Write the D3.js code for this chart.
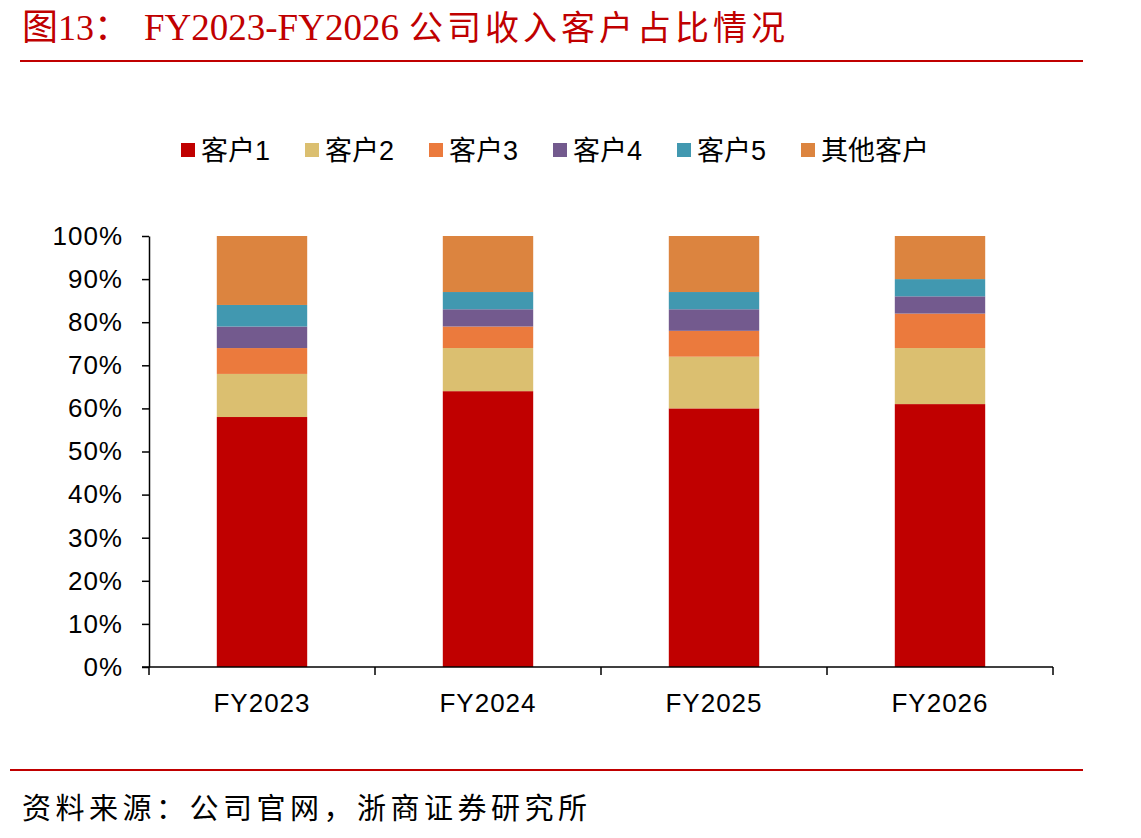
<!DOCTYPE html>
<html>
<head>
<meta charset="utf-8">
<script src="https://cdn.jsdelivr.net/npm/d3@7"></script>
<style>
  body { margin: 0; background: #fff; }
  svg { display: block; }
</style>
</head>
<body>
<div id="chart"></div>
<script>
// Data (percent of revenue)
const years = ["FY2023", "FY2024", "FY2025", "FY2026"];
const seriesNames = ["客户1", "客户2", "客户3", "客户4", "客户5", "其他客户"];
const client1 = [58, 64, 60, 61];
const client2 = [10, 10, 12, 13];
const client3 = [6, 5, 6, 8];
const client4 = [5, 4, 5, 4];
const client5 = [5, 4, 4, 4];
const others = [16, 13, 13, 10];
const yTicks = [0, 10, 20, 30, 40, 50, 60, 70, 80, 90, 100];
const colors = ["#C00000", "#DBBF70", "#EB7A3D", "#735A8E", "#4198B0", "#DC843F"];

const W = 1141, H = 838;
const margin = { top: 236, right: 88, bottom: 171, left: 149 };
const width = W - margin.left - margin.right;
const height = H - margin.top - margin.bottom;

const svg = d3.select("#chart").append("svg")
    .attr("width", W)
    .attr("height", H);

const cjk = "'Noto Sans CJK SC', sans-serif";
const serif = "'Liberation Serif', 'Noto Sans CJK SC', serif";
const sans = "'Liberation Sans', Arial, sans-serif";

// Title
svg.append("text")
    .attr("x", 22).attr("y", 40)
    .style("font-family", serif)
    .style("font-size", "36px")
    .style("fill", "#C00000")
    .text("图13：");
svg.append("text")
    .attr("x", 144).attr("y", 40)
    .style("font-family", serif)
    .style("font-size", "37px")
    .style("fill", "#C00000")
    .text("FY2023-FY2026");
svg.append("text")
    .attr("x", 409).attr("y", 40)
    .style("font-family", cjk)
    .style("font-size", "34px")
    .style("letter-spacing", "4px")
    .style("fill", "#C00000")
    .text("公司收入客户占比情况");

svg.append("line")
    .attr("x1", 20).attr("x2", 1083)
    .attr("y1", 61).attr("y2", 61)
    .style("stroke", "#C00000")
    .style("stroke-width", 2);

// Footer
svg.append("line")
    .attr("x1", 10).attr("x2", 1083)
    .attr("y1", 770).attr("y2", 770)
    .style("stroke", "#C00000")
    .style("stroke-width", 2);
svg.append("text")
    .attr("x", 22).attr("y", 819)
    .style("font-family", cjk)
    .style("font-size", "29px")
    .style("letter-spacing", "4.5px")
    .style("fill", "#000")
    .text("资料来源：公司官网，浙商证券研究所");

// Stack data
const table = years.map((y, i) => ({
    year: y,
    "客户1": client1[i],
    "客户2": client2[i],
    "客户3": client3[i],
    "客户4": client4[i],
    "客户5": client5[i],
    "其他客户": others[i]
}));
const stacked = d3.stack().keys(seriesNames)(table);

const g = svg.append("g")
    .attr("transform", `translate(${margin.left}, ${margin.top})`);

const xScale = d3.scaleBand()
    .domain(years)
    .range([0, width])
    .paddingInner(0.6)
    .paddingOuter(0.3);

const yScale = d3.scaleLinear()
    .domain([0, 100])
    .range([height, 0]);

const color = d3.scaleOrdinal().domain(seriesNames).range(colors);

g.selectAll(".series")
    .data(stacked)
    .enter()
    .append("g")
    .attr("class", "series")
    .attr("fill", d => color(d.key))
    .selectAll("rect")
    .data(d => d)
    .enter()
    .append("rect")
    .attr("x", d => xScale(d.data.year))
    .attr("y", d => yScale(d[1]))
    .attr("width", xScale.bandwidth())
    .attr("height", d => yScale(d[0]) - yScale(d[1]));

// Y axis
const yAxis = g.append("g")
    .call(d3.axisLeft(yScale).tickValues(yTicks).tickSize(7).tickSizeOuter(0).tickPadding(19)
        .tickFormat(d => d + "%"));
yAxis.selectAll("text")
    .style("font-family", sans)
    .style("font-size", "26px")
    .style("letter-spacing", "1px")
    .style("fill", "#000");
yAxis.selectAll("line, path").style("stroke", "#000").style("stroke-width", 1.5);

// X axis with ticks at band edges
const xAxis = g.append("g")
    .attr("transform", `translate(0, ${height})`);
xAxis.append("line")
    .attr("x1", -7).attr("x2", width)
    .style("stroke", "#000").style("stroke-width", 1.5);
const step = width / years.length;
xAxis.selectAll(".xtick")
    .data(d3.range(years.length + 1))
    .enter()
    .append("line")
    .attr("class", "xtick")
    .attr("x1", d => d * step).attr("x2", d => d * step)
    .attr("y1", 0).attr("y2", 8)
    .style("stroke", "#000").style("stroke-width", 1.5);
xAxis.selectAll(".xlabel")
    .data(years)
    .enter()
    .append("text")
    .attr("class", "xlabel")
    .attr("x", d => xScale(d) + xScale.bandwidth() / 2)
    .attr("y", 45)
    .attr("text-anchor", "middle")
    .style("font-family", sans)
    .style("font-size", "26px")
    .style("letter-spacing", "1px")
    .style("fill", "#000")
    .text(d => d);

// Legend
const legend = svg.append("g")
    .attr("transform", "translate(181, 150)");
const items = legend.selectAll(".legend-item")
    .data(seriesNames)
    .enter()
    .append("g")
    .attr("class", "legend-item")
    .attr("transform", (d, i) => `translate(${i * 124}, 0)`);
items.append("rect")
    .attr("x", 0).attr("y", -7)
    .attr("width", 14).attr("height", 14)
    .attr("fill", d => color(d));
items.append("text")
    .attr("x", 20)
    .attr("y", 10)
    .style("font-family", "'Liberation Sans', 'Noto Sans CJK SC', sans-serif")
    .style("font-size", "27px")
    .style("fill", "#000")
    .text(d => d);
</script>
</body>
</html>
